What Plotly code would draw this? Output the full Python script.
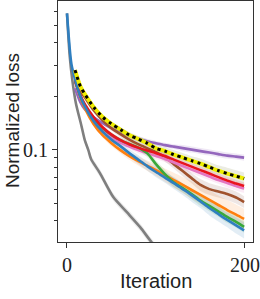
import plotly.graph_objects as go

# ---------------- data ----------------
# iterations
T_BLUE = [0, 5, 10, 15, 20, 30, 40, 50, 60, 70, 80, 90, 100, 110, 120, 130, 140, 150, 160, 170, 180, 190, 199]
T_LATE = [9, 15, 20, 30, 40, 50, 60, 70, 80, 90, 100, 110, 120, 130, 140, 150, 160, 170, 180, 190, 199]
T_GRAY = [0, 3, 6, 10, 16, 20, 24, 27, 37, 52, 67, 82, 93, 110]

# normalized loss per method
blue = [0.586, 0.303, 0.240, 0.2005, 0.1757, 0.1449, 0.1266, 0.1141, 0.1049, 0.0958, 0.0881, 0.081,
        0.075, 0.0698, 0.065, 0.0601, 0.0556, 0.0512, 0.047, 0.0435, 0.0403, 0.0375, 0.0352]
orange = [0.247, 0.1978, 0.1715, 0.1395, 0.1209, 0.1090, 0.0996, 0.0922, 0.0864, 0.0815, 0.0769,
          0.0721, 0.0676, 0.0634, 0.0594, 0.0557, 0.0522, 0.0489, 0.0458, 0.0432, 0.0408]
green = [0.245, 0.200, 0.178, 0.151, 0.1325, 0.1215, 0.1135, 0.1078, 0.1029, 0.0958, 0.0831,
         0.073, 0.0654, 0.0609, 0.0564, 0.0518, 0.0483, 0.045, 0.0419, 0.0393, 0.0368]
red = [0.247, 0.203, 0.1806, 0.1527, 0.1341, 0.1217, 0.1134, 0.1076, 0.1029, 0.099, 0.0958,
       0.0922, 0.0881, 0.0842, 0.0804, 0.0769, 0.0735, 0.0702, 0.0671, 0.0646, 0.0625]
pink = [0.24, 0.1978, 0.1759, 0.1488, 0.1307, 0.1178, 0.1097, 0.1042, 0.0996, 0.0958, 0.0922,
        0.0887, 0.0848, 0.081, 0.0774, 0.074, 0.0707, 0.0676, 0.065, 0.0625, 0.0605]
purple = [0.2221, 0.1854, 0.1693, 0.1527, 0.1413, 0.1324, 0.1257, 0.1202, 0.1156, 0.1119, 0.109,
          0.1063, 0.1042, 0.1022, 0.1003, 0.0983, 0.0965, 0.0946, 0.0928, 0.0916, 0.0904]
brown = [0.2697, 0.2153, 0.1978, 0.1671, 0.1468, 0.1324, 0.1225, 0.1141, 0.1076, 0.1022, 0.0971,
         0.091, 0.0831, 0.0759, 0.0693, 0.0634, 0.0601, 0.0582, 0.0564, 0.0539, 0.0508]
gray = [0.586, 0.340, 0.247, 0.183, 0.138, 0.1134, 0.0996, 0.0887, 0.074, 0.0542, 0.0447, 0.0368, 0.0311, 0.0243]
yellow = [0.281, 0.228, 0.206, 0.174, 0.153, 0.140, 0.130, 0.121, 0.115, 0.109, 0.102, 0.0984,
          0.094, 0.0904, 0.0869, 0.0836, 0.0799, 0.0764, 0.0735, 0.0711, 0.0689]

# multiplicative spread of the shaded band around each curve
blue_spread = [1.0, 1.02, 1.02, 1.03, 1.03, 1.03, 1.04, 1.04, 1.05, 1.05, 1.06, 1.06, 1.07, 1.07,
               1.08, 1.08, 1.09, 1.09, 1.10, 1.10, 1.10, 1.11, 1.11]
orange_spread = [1.01, 1.02, 1.02, 1.03, 1.03, 1.04, 1.04, 1.05, 1.06, 1.07, 1.08, 1.09, 1.10, 1.11,
                 1.12, 1.12, 1.13, 1.13, 1.14, 1.14, 1.14]
green_spread = [1.01, 1.02, 1.02, 1.02, 1.03, 1.03, 1.03, 1.04, 1.04, 1.05, 1.05, 1.06, 1.06, 1.06,
                1.07, 1.07, 1.07, 1.07, 1.08, 1.08, 1.08]
red_spread = [1.01, 1.02, 1.02, 1.02, 1.03, 1.03, 1.03, 1.03, 1.04, 1.04, 1.04, 1.04, 1.05, 1.05,
              1.05, 1.05, 1.05, 1.05, 1.05, 1.05, 1.05]
pink_spread = [1.01, 1.02, 1.02, 1.02, 1.03, 1.03, 1.03, 1.03, 1.04, 1.04, 1.04, 1.04, 1.05, 1.05,
               1.05, 1.05, 1.05, 1.05, 1.06, 1.06, 1.06]
purple_spread = [1.01, 1.02, 1.02, 1.02, 1.02, 1.03, 1.03, 1.03, 1.03, 1.03, 1.03, 1.03, 1.03, 1.04,
                 1.04, 1.04, 1.04, 1.04, 1.04, 1.04, 1.04]
brown_spread = [1.01, 1.02, 1.02, 1.03, 1.03, 1.03, 1.04, 1.04, 1.04, 1.05, 1.05, 1.06, 1.06, 1.07,
                1.07, 1.08, 1.08, 1.08, 1.08, 1.08, 1.08]
gray_spread = [1.0, 1.02, 1.03, 1.03, 1.04, 1.04, 1.04, 1.05, 1.05, 1.05, 1.05, 1.05, 1.05, 1.05]
yellow_spread = [1.01, 1.02, 1.02, 1.02, 1.03, 1.03, 1.03, 1.04, 1.04, 1.05, 1.05, 1.05, 1.06, 1.06,
                 1.06, 1.07, 1.07, 1.07, 1.08, 1.08, 1.08]

X_TICKS = [0, 200]
X_TICK_TEXT = ["0", "200"]
Y_TICKS = [0.1]
Y_TICK_TEXT = ["0.1"]
Y_MINOR = [0.04, 0.05, 0.06, 0.07, 0.08, 0.09, 0.2, 0.3, 0.4, 0.5, 0.6]
X_TITLE = "Iteration"
Y_TITLE = "Normalized loss"

# ---------------- figure ----------------
series = [
    (T_GRAY, gray, gray_spread, "#7f7f7f", "rgba(127,127,127,0.15)"),
    (T_LATE, purple, purple_spread, "#9467bd", "rgba(148,103,189,0.15)"),
    (T_LATE, brown, brown_spread, "#a0522d", "rgba(140,86,75,0.15)"),
    (T_LATE, pink, pink_spread, "#e377c2", "rgba(227,119,194,0.15)"),
    (T_LATE, orange, orange_spread, "#ff7f0e", "rgba(255,127,14,0.13)"),
    (T_LATE, green, green_spread, "#3aa83a", "rgba(44,160,44,0.13)"),
    (T_LATE, red, red_spread, "#e8141e", "rgba(232,20,30,0.13)"),
    (T_BLUE, blue, blue_spread, "#2f7fc0", "rgba(31,119,180,0.13)"),
    (T_LATE, yellow, yellow_spread, "#eeee00", "rgba(120,130,60,0.15)"),
]

fig = go.Figure()
sp = dict(shape="spline", smoothing=0.7)

# shaded bands
for t, v, s, col, fcol in series:
    lo = [a / b for a, b in zip(v, s)]
    hi = [a * b for a, b in zip(v, s)]
    fig.add_trace(go.Scatter(x=t, y=lo, mode="lines", line=dict(width=0, **sp),
                             hoverinfo="skip", showlegend=False))
    fig.add_trace(go.Scatter(x=t, y=hi, mode="lines", line=dict(width=0, **sp),
                             fill="tonexty", fillcolor=fcol, hoverinfo="skip", showlegend=False))

# lines
for t, v, s, col, fcol in series:
    w = 4 if col == "#eeee00" else 2.6
    fig.add_trace(go.Scatter(x=t, y=v, mode="lines", line=dict(color=col, width=w, **sp),
                             hoverinfo="skip", showlegend=False))

# black dotted overlay on the yellow curve
fig.add_trace(go.Scatter(x=T_LATE, y=yellow, mode="lines",
                         line=dict(color="black", width=3, dash="3px,4px", **sp),
                         hoverinfo="skip", showlegend=False))

axis_col = "#333333"
fig.update_layout(
    width=260, height=299,
    margin=dict(l=58, r=7, t=1, b=57, autoexpand=False),
    plot_bgcolor="white", paper_bgcolor="white",
    showlegend=False,
    xaxis=dict(
        range=[-10.1, 209], tickvals=X_TICKS, ticktext=X_TICK_TEXT,
        ticks="outside", ticklen=5, tickcolor=axis_col, tickwidth=1,
        showline=True, mirror=True, linecolor=axis_col, linewidth=1,
        showgrid=False, zeroline=False, automargin=False,
        tickfont=dict(family="Liberation Serif", size=20, color="#222"),
    ),
    yaxis=dict(
        type="log", range=[-1.519, -0.162], tickvals=Y_TICKS, ticktext=Y_TICK_TEXT,
        ticks="outside", ticklen=5, tickcolor=axis_col, tickwidth=1,
        minor=dict(tickvals=Y_MINOR, ticks="outside", ticklen=3, tickcolor=axis_col, tickwidth=1),
        showline=True, mirror=True, linecolor=axis_col, linewidth=1,
        showgrid=False, zeroline=False, automargin=False,
        tickfont=dict(family="Liberation Serif", size=20, color="#222"),
    ),
    annotations=[
        dict(text=X_TITLE, xref="paper", yref="paper", x=0.5, y=-0.162,
             xanchor="center", yanchor="middle", showarrow=False,
             font=dict(family="Liberation Sans", size=20, color="#222")),
        dict(text=Y_TITLE, xref="paper", yref="paper", x=-0.236, y=0.506,
             xanchor="center", yanchor="middle", showarrow=False, textangle=-90,
             font=dict(family="Liberation Sans", size=19, color="#222")),
    ],
)

fig.write_html("out.html",
               config={"displayModeBar": False, "staticPlot": True},
               post_script="document.body.style.margin='0';document.body.style.overflow='hidden';")
